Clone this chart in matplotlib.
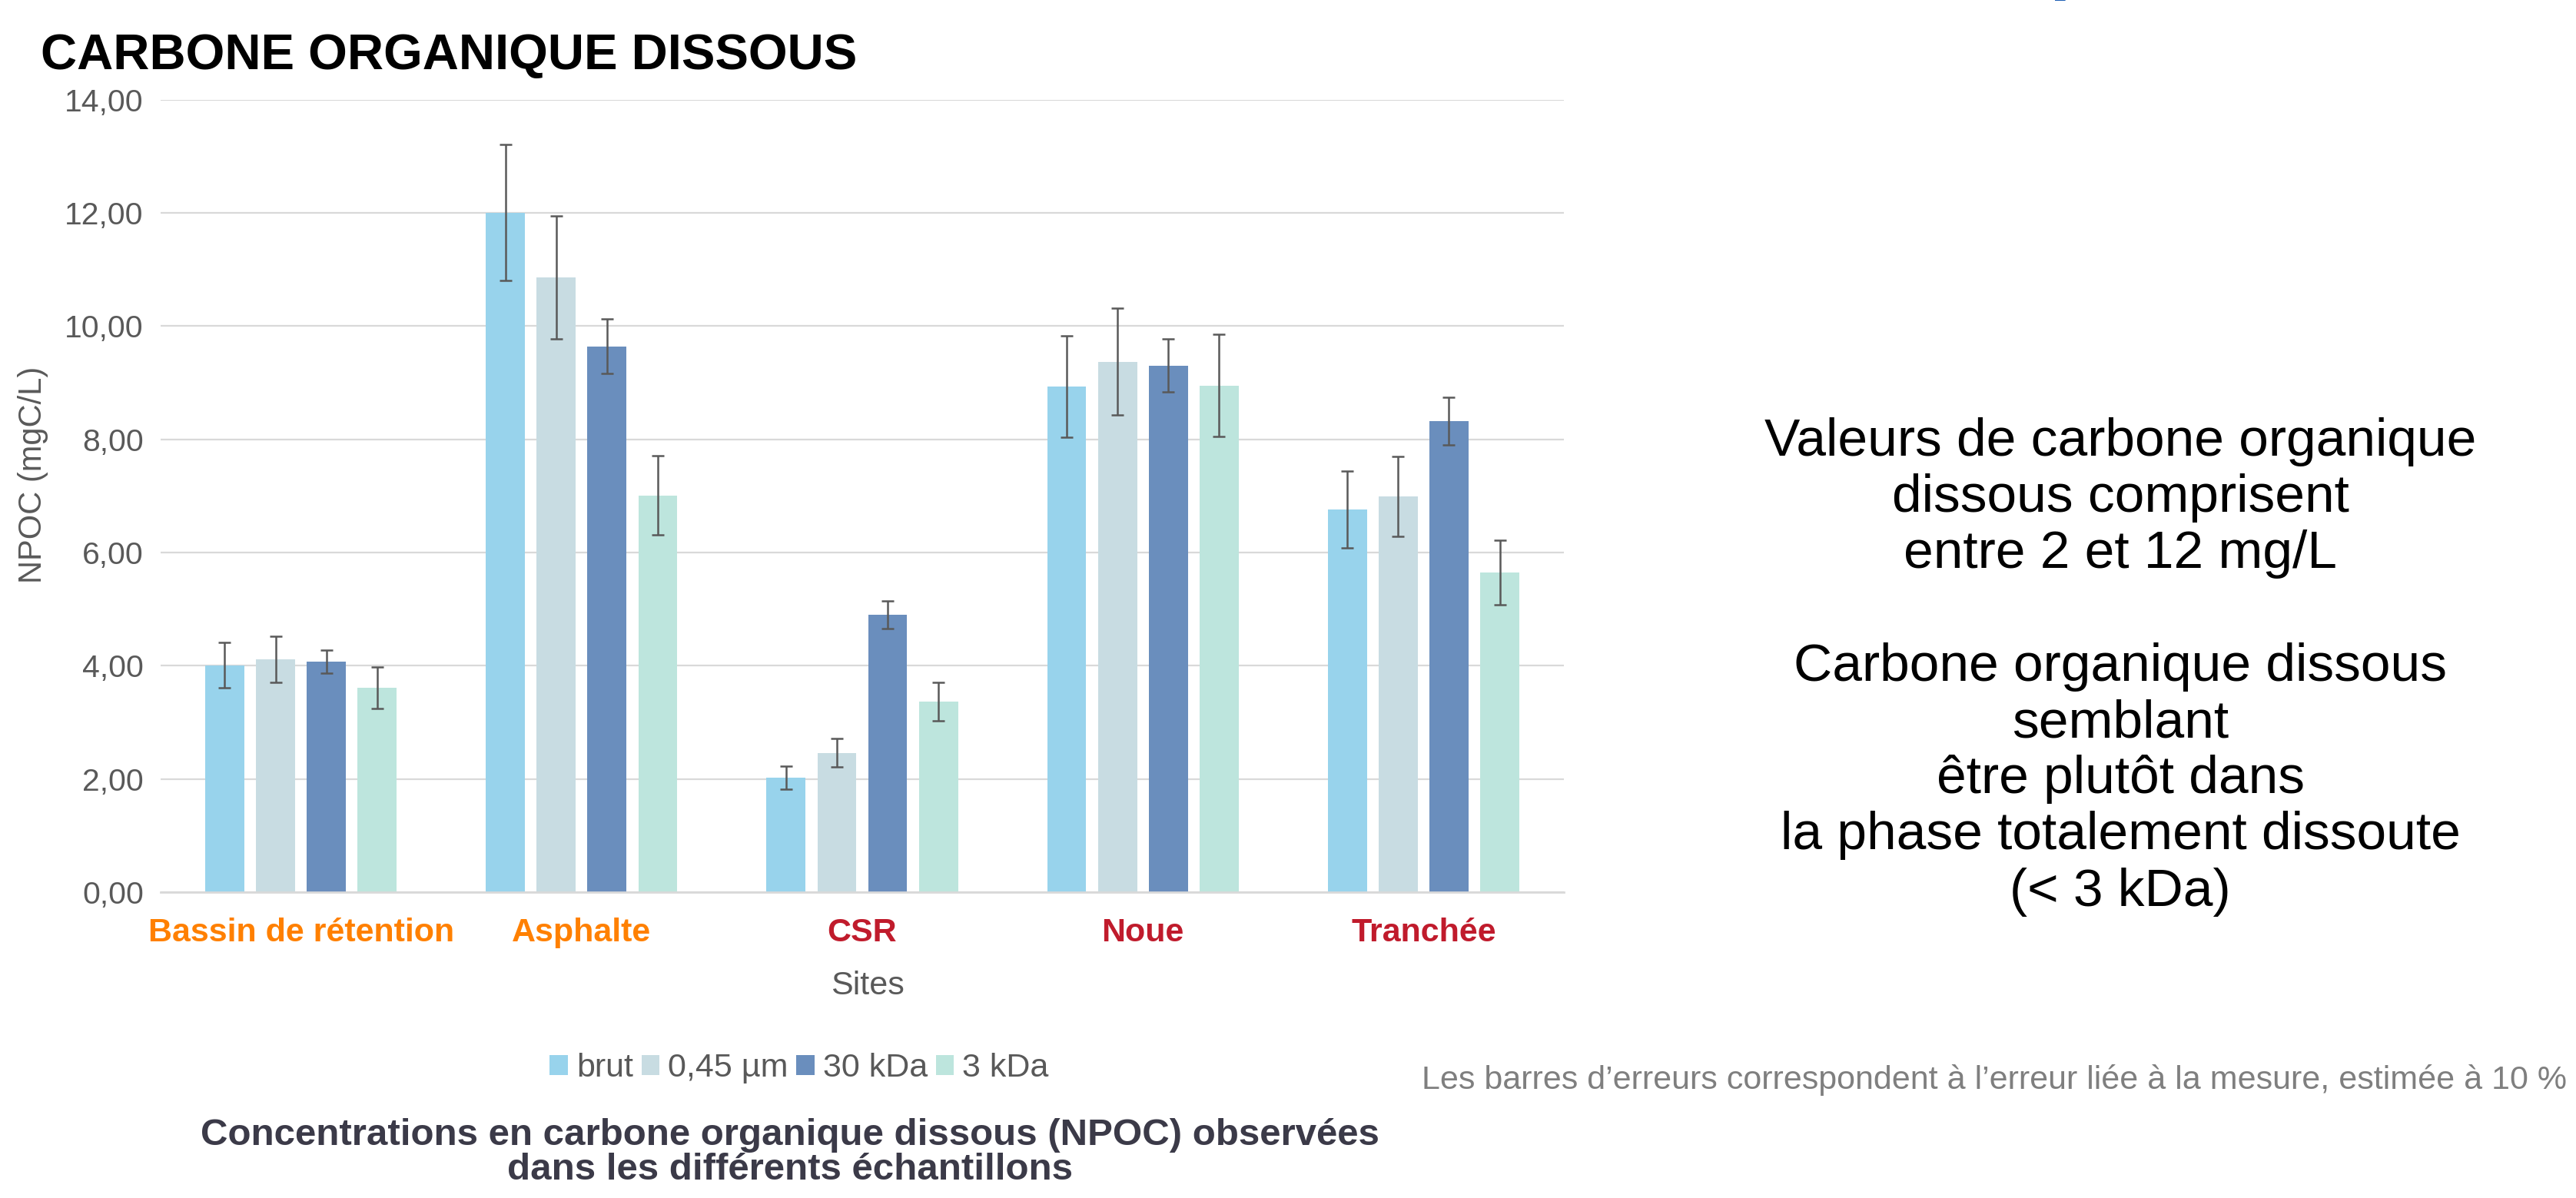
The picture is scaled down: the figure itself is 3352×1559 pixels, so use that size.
import matplotlib
matplotlib.use("Agg")
import matplotlib.pyplot as plt
import numpy as np

plt.rcParams["font.family"] = ["Liberation Sans", "DejaVu Sans"]

# --- data (NPOC, mgC/L) ---
SITES = ["Bassin de rétention", "Asphalte", "CSR", "Noue", "Tranchée"]
SITE_COLORS = ["#FF8000", "#FF8000", "#C01B2C", "#C01B2C", "#C01B2C"]
SERIES = ["brut", "0,45 µm", "30 kDa", "3 kDa"]
SERIES_COLORS = ["#98D3EC", "#C8DCE2", "#6A8EBD", "#BDE5DD"]

BRUT = [4.01, 12.00, 2.02, 8.93, 6.76]
F045 = [4.11, 10.86, 2.46, 9.37, 6.99]
F30K = [4.07, 9.64, 4.90, 9.30, 8.32]
F3K = [3.61, 7.01, 3.36, 8.95, 5.65]

ERR_BRUT = [0.40, 1.20, 0.20, 0.89, 0.68]
ERR_045 = [0.41, 1.09, 0.25, 0.94, 0.70]
ERR_30K = [0.20, 0.48, 0.25, 0.47, 0.42]
ERR_3K = [0.36, 0.70, 0.34, 0.90, 0.57]

YTICKS = [0, 2, 4, 6, 8, 10, 12, 14]

SIDE_LINES = [
    "Valeurs de carbone organique",
    "dissous comprisent",
    "entre 2 et 12 mg/L",
    "",
    "Carbone organique dissous",
    "semblant",
    "être plutôt dans",
    "la phase totalement dissoute",
    "(< 3 kDa)",
]
CAPTION = ["Concentrations en carbone organique dissous (NPOC) observées",
           "dans les différents échantillons"]
NOTE = "Les barres d’erreurs correspondent à l’erreur liée à la mesure, estimée à 10 %"

W, H = 3352, 1559
fig = plt.figure(figsize=(W / 100, H / 100), dpi=100)
fig.patch.set_facecolor("white")

ax = fig.add_axes([209 / W, 1 - 1161 / H, 1826 / W, 1031.5 / H])
x = np.arange(len(SITES))
step, width = 0.181, 0.139
values = [BRUT, F045, F30K, F3K]
errors = [ERR_BRUT, ERR_045, ERR_30K, ERR_3K]
for i, (name, vals, errs, col) in enumerate(zip(SERIES, values, errors, SERIES_COLORS)):
    xs = x + (i - 1.5) * step
    ax.bar(xs, vals, width, color=col, label=name, zorder=2)
    ax.errorbar(xs, vals, yerr=errs, fmt="none", ecolor="#595959",
                elinewidth=1.8, capsize=5.8, capthick=1.8, zorder=3)

ax.set_xlim(-0.5, len(SITES) - 0.5)
ax.set_ylim(0, 14)
ax.set_yticks(YTICKS)
ax.set_yticklabels([f"{v:.2f}".replace(".", ",") for v in YTICKS],
                   fontsize=29.5, color="#595959")
ax.tick_params(axis="y", length=0, pad=16)
ax.set_xticks(x)
ax.set_xticklabels(SITES, fontsize=31, fontweight="bold")
for lab, c in zip(ax.get_xticklabels(), SITE_COLORS):
    lab.set_color(c)
ax.tick_params(axis="x", length=0, pad=24)
ax.yaxis.grid(True, color="#D9D9D9", linewidth=1.6, zorder=0)
ax.set_axisbelow(True)
for s in ["top", "right", "left"]:
    ax.spines[s].set_visible(False)
ax.spines["bottom"].set_color("#D9D9D9")
ax.spines["bottom"].set_linewidth(2)

fig.text(1129 / W, 1 - 1283 / H, "Sites", fontsize=31, color="#595959",
         ha="center", va="center")
fig.text(43 / W, 1 - 618 / H, "NPOC (mgC/L)", fontsize=30, color="#595959",
         rotation=90, ha="center", va="center")

leg = ax.legend(loc="center", bbox_to_anchor=(1040 / W, 1 - 1390 / H),
                bbox_transform=fig.transFigure, ncol=4, frameon=False,
                fontsize=31, handlelength=0.55, handleheight=0.55,
                handletextpad=0.25, columnspacing=0.25)
for t in leg.get_texts():
    t.set_color("#595959")

fig.text(53 / W, 1 - 90 / H, "CARBONE ORGANIQUE DISSOUS", fontsize=47,
         fontweight="bold", color="black", ha="left", va="baseline")

# cut-off blue slide heading at the top edge (only descenders show)
fig.text(2305 / W, 1 + 26 / H, "g", fontsize=72, fontweight="bold",
         color="#1F5FB4", ha="left", va="baseline")
fig.text(2666 / W, 1 + 20 / H, "p", fontsize=72, fontweight="bold",
         color="#1F5FB4", ha="left", va="baseline")

for i, line in enumerate(SIDE_LINES):
    fig.text(2759 / W, 1 - (593 + 73.2 * i) / H, line, fontsize=50,
             color="black", ha="center", va="baseline")

fig.text(1028 / W, 1 - 1490 / H, CAPTION[0], fontsize=35.5, fontweight="bold",
         color="#3B3A48", ha="center", va="baseline")
fig.text(1028 / W, 1 - 1535 / H, CAPTION[1], fontsize=35.5, fontweight="bold",
         color="#3B3A48", ha="center", va="baseline")

fig.text(3340 / W, 1 - 1417 / H, NOTE, fontsize=31, color="#7F7F7F",
         ha="right", va="baseline")

fig.savefig("out.png", dpi=100, facecolor="white")
